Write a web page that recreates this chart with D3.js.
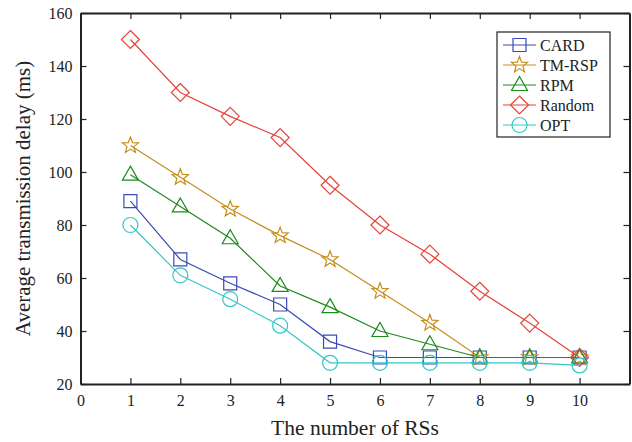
<!DOCTYPE html>
<html>
<head>
<meta charset="utf-8">
<script src="https://cdn.jsdelivr.net/npm/d3@7"></script>
<style>
body { margin: 0; background: white; }
svg text { font-family: "Times New Roman", "Liberation Serif", Times, "DejaVu Serif", serif !important; fill: #222; }
</style>
</head>
<body>
<svg id="chart" width="632" height="442"></svg>
<script>
// values
var rs_counts = [1, 2, 3, 4, 5, 6, 7, 8, 9, 10];
var card    = [89, 67, 58, 50, 36, 30, 30, 30, 30, 30];
var tm_rsp  = [110, 98, 86, 76, 67, 55, 43, 30, 30, 30];
var rpm     = [99, 87, 75, 57, 49, 40, 35, 30, 30, 30];
var random  = [150, 130, 121, 113, 95, 80, 69, 55, 43, 30];
var opt     = [80, 61, 52, 42, 28, 28, 28, 28, 28, 27];
var x_ticks = [0, 1, 2, 3, 4, 5, 6, 7, 8, 9, 10];
var y_ticks = [20, 40, 60, 80, 100, 120, 140, 160];

var series = [
    {"name": "CARD",   "values": card,   "color": "#3a4bb8", "marker": "square"},
    {"name": "TM-RSP", "values": tm_rsp, "color": "#c58d1c", "marker": "star"},
    {"name": "RPM",    "values": rpm,    "color": "#1d8a1d", "marker": "triangle"},
    {"name": "Random", "values": random, "color": "#e8423a", "marker": "diamond"},
    {"name": "OPT",    "values": opt,    "color": "#35c6c8", "marker": "circle"}
];

// plot box (note: "top" is taken by window.top, so use p_ prefix)
var p_left = 80.5, p_right = 629.5, p_top = 13, p_bottom = 384;
var svg = d3.select("#chart");

var x = d3.scaleLinear().domain([0, 11]).range([p_left, p_right]);
var y = d3.scaleLinear().domain([20, 160]).range([p_bottom, p_top]);

// inward ticks on all four sides
svg.append("g").attr("transform", "translate(0," + p_bottom + ")")
    .call(d3.axisBottom(x).tickValues(x_ticks).tickSizeInner(-6).tickSizeOuter(0).tickPadding(11))
    .call(style_axis);
svg.append("g").attr("transform", "translate(0," + p_top + ")")
    .call(d3.axisTop(x).tickValues(x_ticks).tickSizeInner(-6).tickSizeOuter(0).tickFormat(""))
    .call(style_axis);
svg.append("g").attr("transform", "translate(" + p_left + ",0)")
    .call(d3.axisLeft(y).tickValues(y_ticks).tickSizeInner(-6).tickSizeOuter(0).tickPadding(8))
    .call(style_axis);
svg.append("g").attr("transform", "translate(" + p_right + ",0)")
    .call(d3.axisRight(y).tickValues(y_ticks).tickSizeInner(-6).tickSizeOuter(0).tickFormat(""))
    .call(style_axis);

function style_axis(g) {
    g.attr("font-family", null);
    g.select(".domain").attr("stroke", "#222").attr("stroke-width", 2);
    g.selectAll(".tick line").attr("stroke", "#222").attr("stroke-width", 1.2);
    g.selectAll(".tick text").attr("font-size", 16).attr("fill", "#222");
}

function marker_path(kind) {
    if (kind == "square") return "M-6.5,-6.5H6.5V6.5H-6.5Z";
    if (kind == "diamond") return "M0,-9L9,0L0,9L-9,0Z";
    if (kind == "triangle") return "M0,-8.5L8,5.5H-8Z";
    if (kind == "circle") return "M-7.5,0A7.5,7.5 0 1,0 7.5,0A7.5,7.5 0 1,0 -7.5,0Z";
    // star
    var pts = [];
    for (var i = 0; i < 10; i++) {
        var r = (i % 2 == 0) ? 8.5 : 3.6;
        var a = -Math.PI / 2 + i * Math.PI / 5;
        pts.push([r * Math.cos(a), r * Math.sin(a)]);
    }
    return "M" + pts.map(function(p) {return p[0].toFixed(2) + "," + p[1].toFixed(2);}).join("L") + "Z";
}

var line = d3.line()
    .x(function(d, i) {return x(rs_counts[i]);})
    .y(function(d) {return y(d);});

series.forEach(function(s) {
    var g = svg.append("g");
    g.append("path").attr("d", line(s.values))
        .attr("fill", "none").attr("stroke", s.color).attr("stroke-width", 1.2);
    g.selectAll("path.mk").data(s.values).enter().append("path")
        .attr("class", "mk")
        .attr("transform", function(d, i) {return "translate(" + x(rs_counts[i]) + "," + y(d) + ")";})
        .attr("d", marker_path(s.marker))
        .attr("fill", "none").attr("stroke", s.color).attr("stroke-width", 1.2);
});

// legend
var lg = svg.append("g").attr("transform", "translate(497,32)");
lg.append("rect").attr("width", 113).attr("height", 105)
    .attr("fill", "white").attr("stroke", "#222").attr("stroke-width", 1.2);
series.forEach(function(s, i) {
    var yy = 13 + i * 20;
    lg.append("line").attr("x1", 6).attr("x2", 39).attr("y1", yy).attr("y2", yy)
        .attr("stroke", s.color).attr("stroke-width", 1.2);
    lg.append("path").attr("transform", "translate(22.5," + yy + ")")
        .attr("d", marker_path(s.marker))
        .attr("fill", "none").attr("stroke", s.color).attr("stroke-width", 1.2);
    lg.append("text").attr("x", 43).attr("y", yy + 5.5)
        .attr("font-size", 16).text(s.name);
});

// axis titles
svg.append("text").attr("x", (p_left + p_right) / 2).attr("y", 435)
    .attr("text-anchor", "middle").attr("font-size", 21.5).text("The number of RSs");
svg.append("text").attr("transform", "translate(30," + ((p_top + p_bottom) / 2) + ") rotate(-90)")
    .attr("text-anchor", "middle").attr("font-size", 21).text("Average transmission delay (ms)");
</script>
</body>
</html>
